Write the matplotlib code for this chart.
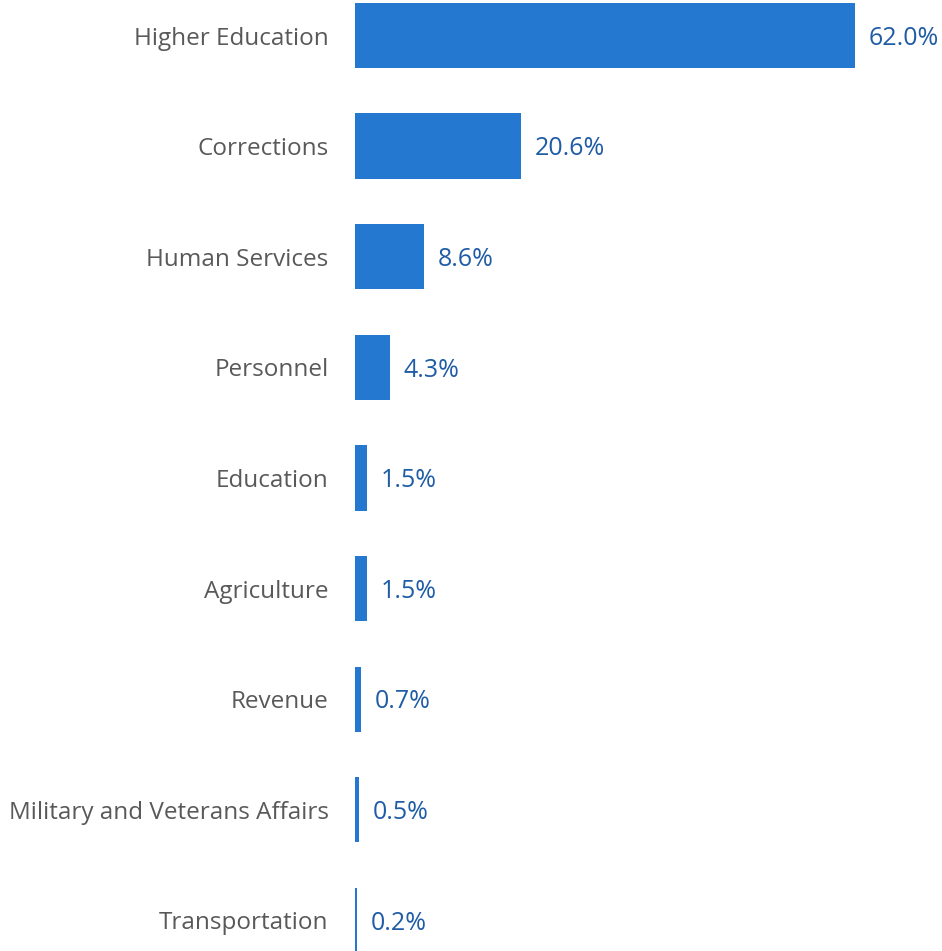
import matplotlib
matplotlib.use("Agg")
import matplotlib.pyplot as plt

categories = ["Higher Education", "Corrections", "Human Services", "Personnel",
              "Education", "Agriculture", "Revenue",
              "Military and Veterans Affairs", "Transportation"]
shares = [62.0, 20.6, 8.6, 4.3, 1.5, 1.5, 0.7, 0.5, 0.2]

bar_color = "#2478D0"
value_color = "#1F5CA6"
label_color = "#595959"

plt.rcParams["font.family"] = ["Open Sans", "DejaVu Sans"]

fig = plt.figure(figsize=(9.42, 9.51), dpi=100)
ax = fig.add_axes([355 / 942, 0, 1 - 355 / 942, 1])

pos = list(range(len(categories)))
ax.barh(pos, shares, height=0.59, color=bar_color)

for y, v in zip(pos, shares):
    ax.annotate(f"{v:.1f}%", (v, y), xytext=(10, -2), textcoords="offset points",
                va="center", ha="left", fontsize=18, color=value_color)

ax.set_xlim(0, (942 - 355) / (500 / 62.0))
ax.set_ylim(8.277, -0.321)
ax.set_yticks(pos)
ax.set_yticklabels(categories, fontsize=17.5, color=label_color)
ax.tick_params(axis="y", length=0, pad=19)
ax.set_xticks([])
for s in ax.spines.values():
    s.set_visible(False)

fig.savefig("out.png", dpi=100)
